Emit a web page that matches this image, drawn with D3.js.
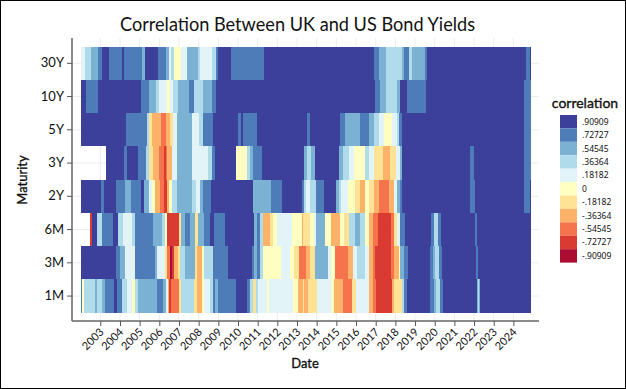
<!DOCTYPE html>
<html>
<head>
<meta charset="utf-8">
<script src="https://cdn.jsdelivr.net/npm/d3@7"></script>
<style>
  html, body { margin: 0; padding: 0; background: #fff; }
  text { font-family: Lato, "Noto Sans", sans-serif; fill: #111; }
  .legend-label { font-family: "Noto Sans", sans-serif; }
  .semi { stroke: #111; stroke-width: 0.35px; }
</style>
</head>
<body>
<svg id="chart"></svg>
<script>
const width = 626;
const height = 389;

// Maturities, top row first
const maturities = ["30Y", "10Y", "5Y", "3Y", "2Y", "6M", "3M", "1M"];
const tickYears = d3.range(2003, 2025);
const legendLevels = [0.90909, 0.72727, 0.54545, 0.36364, 0.18182, 0, -0.18182, -0.36364, -0.54545, -0.72727, -0.90909];
const legendLabels = [".90909", ".72727", ".54545", ".36364", ".18182", "0", "-.18182", "-.36364", "-.54545", "-.72727", "-.90909"];
const levelColors = ["#313695", "#4575b4", "#74add1", "#abd9e9", "#e0f3f8", "#ffffbf", "#fee090", "#fdae61", "#f46d43", "#d73027", "#a50026"];
const lastYear = 2024.88;

// Each row: year where a run of equal correlation starts, and that correlation (null = no data)
const starts30Y = [2002, 2002.22, 2002.53, 2002.86, 2003.1, 2003.42, 2004.08, 2004.19, 2005.14, 2005.25, 2005.93, 2006.34, 2006.47, 2006.59, 2006.75, 2007.1, 2007.39, 2007.97, 2008.07, 2008.66, 2008.88, 2009, 2009.66, 2011.31, 2016.93, 2017.17, 2017.54, 2018.32, 2018.42, 2018.68, 2018.86, 2019.53, 2019.61, 2024.66, 2024.83];
const corr30Y = [.18182, .36364, .54545, .72727, .90909, .72727, .90909, .72727, .54545, .90909, .72727, .54545, .18182, .36364, 0, .18182, .54545, .36364, .18182, .36364, .72727, .90909, .72727, .90909, .72727, .54545, .36364, .54545, .72727, .36364, .54545, .72727, .90909, .72727, .90909];

const starts10Y = [2002, 2002.27, 2002.88, 2005.05, 2005.19, 2005.47, 2005.81, 2006, 2006.41, 2006.54, 2006.71, 2006.95, 2007.51, 2007.78, 2008.24, 2008.66, 2008.86, 2016.98, 2017.24, 2017.51, 2018.08, 2018.25, 2018.59, 2019.58, 2024.56];
const corr10Y = [.90909, .72727, .90909, .72727, .72727, .54545, .36364, .18182, 0, .18182, .36364, .54545, .72727, .36364, .54545, .72727, .90909, .72727, .54545, .36364, .54545, .90909, .72727, .90909, .72727];

const starts5Y = [2002, 2004.31, 2005.36, 2005.47, 2005.64, 2006.07, 2006.34, 2006.54, 2006.71, 2006.92, 2007.66, 2008.03, 2008.2, 2008.75, 2010.02, 2010.15, 2010.27, 2010.97, 2013.53, 2013.64, 2015.17, 2015.42, 2016.22, 2016.64, 2016.93, 2017.17, 2017.44, 2017.83, 2018.08, 2018.19, 2018.34, 2024.56];
const corr5Y = [.90909, .72727, .36364, -.18182, -.36364, -.54545, -.36364, -.18182, .18182, .54545, .18182, .36364, .72727, .90909, .72727, .90909, .72727, .90909, .72727, .90909, .72727, .54545, .72727, .54545, .36364, .18182, 0, .18182, .36364, .72727, .90909, .72727];

const starts3Y = [2002, 2003.31, 2004.2, 2004.36, 2004.93, 2005.32, 2005.49, 2005.66, 2006, 2006.24, 2006.34, 2006.41, 2006.63, 2006.92, 2007.66, 2008.24, 2008.49, 2008.66, 2008.85, 2009.9, 2010.44, 2010.61, 2010.76, 2011.22, 2013.37, 2013.51, 2013.71, 2013.93, 2015.12, 2015.34, 2015.63, 2015.88, 2016.47, 2016.68, 2016.93, 2017.14, 2017.37, 2017.71, 2018.05, 2018.22, 2018.34, 2021.78, 2022.02, 2024.56];
const corr3Y = [null, .90909, .72727, .90909, .72727, .36364, -.18182, -.36364, -.54545, -.72727, -.54545, -.36364, .18182, .54545, .18182, .18182, .36364, .72727, .90909, 0, .36364, .54545, .72727, .90909, .54545, .36364, .54545, .90909, .54545, .36364, .18182, 0, .36364, .18182, -.18182, -.18182, -.36364, -.18182, .18182, .54545, .90909, .72727, .90909, .72727];

const starts2Y = [2002, 2003.03, 2003.2, 2003.8, 2004.25, 2004.54, 2005.05, 2005.22, 2005.49, 2005.61, 2005.76, 2006.03, 2006.24, 2006.37, 2006.51, 2006.63, 2006.88, 2007.66, 2007.86, 2008.07, 2008.2, 2008.63, 2010.75, 2011.69, 2012.25, 2013.27, 2013.37, 2013.47, 2013.68, 2013.97, 2014.39, 2014.98, 2015.12, 2015.24, 2015.58, 2015.97, 2016.19, 2016.47, 2016.64, 2016.93, 2017.15, 2017.66, 2017.92, 2018.08, 2018.22, 2018.34, 2021.81, 2022.05, 2024.56, 2024.83];
const corr2Y = [.90909, .72727, .90909, .72727, .54545, .72727, .90909, .54545, .18182, 0, -.36364, -.54545, -.72727, -.36364, 0, .36364, .54545, .36364, .18182, .54545, .72727, .90909, .54545, .72727, .90909, .72727, .36364, .18182, .36364, .72727, .90909, .54545, .36364, .18182, 0, -.18182, -.36364, 0, -.18182, -.36364, -.54545, -.36364, .18182, .54545, .72727, .90909, .72727, .90909, .72727, .90909];

const starts6M = [2002, 2002.47, 2002.56, 2002.81, 2003.07, 2003.66, 2003.92, 2004.17, 2004.59, 2004.76, 2005.69, 2005.86, 2006.12, 2006.29, 2006.41, 2007.02, 2007.08, 2007.31, 2007.56, 2007.8, 2007.97, 2008.27, 2008.58, 2008.8, 2009.32, 2010.83, 2010.98, 2011.12, 2011.25, 2011.63, 2011.8, 2012, 2012.76, 2013.24, 2013.31, 2013.64, 2013.85, 2013.97, 2014.44, 2014.73, 2015.17, 2015.37, 2015.63, 2015.97, 2016.19, 2016.47, 2016.64, 2016.86, 2017.1, 2017.78, 2017.92, 2018.08, 2018.22, 2018.51, 2019.81, 2019.95, 2020.15, 2020.32, 2022.07, 2022.17];
const corr6M = [null, -.72727, .90909, .36364, .72727, .90909, .36364, .18182, .36364, .72727, .54545, .54545, .36364, 0, -.72727, -.18182, .54545, .72727, .54545, -.18182, .54545, .72727, .90909, .72727, .90909, .54545, .72727, .36364, -.36364, -.18182, 0, .18182, 0, -.36364, -.18182, 0, .18182, .54545, 0, -.36364, 0, -.18182, .36364, .54545, .36364, 0, -.36364, -.54545, -.72727, -.54545, -.18182, .18182, .72727, .90909, .72727, .36364, .72727, .90909, .72727, .90909];

const starts3M = [2002, 2003.8, 2004, 2004.25, 2004.76, 2005.78, 2005.9, 2006.29, 2006.37, 2006.54, 2006.63, 2006.75, 2006.97, 2007.05, 2007.31, 2007.8, 2007.93, 2008.15, 2008.27, 2008.75, 2009.51, 2010.69, 2010.81, 2010.95, 2011.12, 2011.25, 2012.2, 2012.64, 2012.85, 2013.12, 2013.47, 2013.68, 2013.93, 2014.56, 2014.73, 2014.95, 2015.58, 2015.85, 2016.05, 2016.47, 2016.64, 2016.86, 2016.98, 2017.8, 2017.92, 2018.17, 2018.25, 2018.42, 2018.63, 2019.78, 2019.92, 2020.02, 2020.22, 2020.37, 2022.08, 2022.2];
const corr3M = [.90909, .72727, .54545, .18182, .72727, .54545, .18182, -.18182, -.54545, -.90909, -.72727, -.36364, -.18182, .36364, .54545, -.18182, -.36364, 0, .36364, .72727, .90909, .72727, .54545, .72727, .36364, 0, .18182, 0, -.18182, -.54545, -.36364, -.18182, .54545, .18182, 0, -.54545, -.36364, .18182, .36364, .18182, -.36364, -.54545, -.72727, -.54545, -.36364, 0, .54545, .72727, .90909, .72727, .54545, .36364, .72727, .90909, .72727, .90909];

const starts1M = [2002, 2002.07, 2002.15, 2002.73, 2002.85, 2003.08, 2003.25, 2003.69, 2003.83, 2004.08, 2004.34, 2004.63, 2004.76, 2004.9, 2005.9, 2006.17, 2006.34, 2006.46, 2006.49, 2006.59, 2007.02, 2007.08, 2007.76, 2007.9, 2008.15, 2008.27, 2008.58, 2008.75, 2008.85, 2008.98, 2009.88, 2010.44, 2010.61, 2010.75, 2010.92, 2011.03, 2011.46, 2011.59, 2012.81, 2013.03, 2013.32, 2013.37, 2013.54, 2014.02, 2014.73, 2014.9, 2015.34, 2015.78, 2015.98, 2016.64, 2016.86, 2016.99, 2017.81, 2017.95, 2018.34, 2018.46, 2018.59, 2019.78, 2019.95, 2020.07, 2020.29, 2020.42, 2022.13, 2022.2, 2022.27, 2022.32];
const corr1M = [.72727, 0, .36364, .54545, .36364, .54545, .72727, .90909, .72727, .36364, .18182, 0, .36364, .54545, .72727, .54545, .18182, -.36364, -.72727, -.54545, -.18182, .36364, -.18182, -.36364, 0, .18182, .36364, .72727, .54545, .72727, .90909, .72727, .36364, -.18182, .36364, .18182, 0, .18182, 0, -.36364, -.18182, -.36364, -.18182, .18182, 0, -.36364, -.54545, -.18182, .18182, -.36364, -.54545, -.72727, -.36364, -.18182, .36364, .72727, .90909, .72727, .54545, .36364, .72727, .90909, .54545, .36364, .54545, .90909];

const rowStarts = [starts30Y, starts10Y, starts5Y, starts3Y, starts2Y, starts6M, starts3M, starts1M];
const rowCorr = [corr30Y, corr10Y, corr5Y, corr3Y, corr2Y, corr6M, corr3M, corr1M];

// Plot area in page pixels
const plotLeft = 72;
const plotRight = 539;
const plotTop = 38;
const plotBottom = 321;

const svg = d3.select("#chart")
  .attr("width", width)
  .attr("height", height)
  .style("display", "block");

const x = d3.scaleLinear()
  .domain([2003, 2024])
  .range([100.3, 513.4]);

const y = d3.scaleBand()
  .domain(maturities)
  .range([46.7, 312.7])
  .padding(0);

const color = d3.scaleOrdinal()
  .domain(legendLevels)
  .range(levelColors);

// Faint gridlines first, they show through the tiles a little
const grid = svg.append("g");
grid.selectAll(".vgrid")
  .data(tickYears)
  .enter()
  .append("line")
  .attr("x1", d => x(d))
  .attr("x2", d => x(d))
  .attr("y1", plotTop)
  .attr("y2", plotBottom)
  .attr("stroke", "#ececec");
grid.selectAll(".hgrid")
  .data(maturities)
  .enter()
  .append("line")
  .attr("x1", plotLeft)
  .attr("x2", plotRight)
  .attr("y1", d => y(d) + y.bandwidth() / 2)
  .attr("y2", d => y(d) + y.bandwidth() / 2)
  .attr("stroke", "#ececec");

// Tiles, one rect per run
const tiles = maturities.flatMap((m, i) =>
  rowStarts[i].map((s, j) => ({
    maturity: m,
    start: s,
    end: j + 1 < rowStarts[i].length ? rowStarts[i][j + 1] : lastYear,
    corr: rowCorr[i][j]
  }))
).filter(d => d.corr !== null);

svg.append("g")
  .style("filter", "blur(0.5px)") // the reference is a soft screenshot
  .selectAll("rect")
  .data(tiles)
  .enter()
  .append("rect")
  .attr("x", d => x(d.start))
  .attr("y", d => y(d.maturity))
  .attr("width", d => x(d.end) - x(d.start))
  .attr("height", y.bandwidth())
  .attr("shape-rendering", "crispEdges")
  .attr("fill", d => color(d.corr))
  .attr("fill-opacity", 0.95);

// Axes
const xAxis = d3.axisBottom(x)
  .tickValues(tickYears)
  .tickFormat(d3.format("d"))
  .tickSize(5)
  .tickSizeOuter(0);

const xAxisG = svg.append("g")
  .attr("transform", `translate(0, ${plotBottom})`)
  .call(xAxis);
xAxisG.select(".domain")
  .attr("d", `M${plotLeft},0H${plotRight}`)
  .attr("stroke", "#666")
  .attr("stroke-width", 1.5);
xAxisG.selectAll(".tick line").attr("stroke", "#555");
xAxisG.selectAll(".tick text")
  .attr("font-size", 11)
  .attr("text-anchor", "end")
  .attr("dy", null)
  .attr("transform", "translate(-2, 6) rotate(-45)");

const yAxis = d3.axisLeft(y)
  .tickSize(5)
  .tickSizeOuter(0);

const yAxisG = svg.append("g")
  .attr("transform", `translate(${plotLeft}, 0)`)
  .call(yAxis);
yAxisG.select(".domain")
  .attr("d", `M0,${plotTop}V${plotBottom}`)
  .attr("stroke", "#666")
  .attr("stroke-width", 1.5);
yAxisG.selectAll(".tick line").attr("stroke", "#555");
yAxisG.selectAll(".tick text").attr("font-size", 13);

// Titles
svg.append("text")
  .attr("x", 297.5)
  .attr("y", 31)
  .attr("text-anchor", "middle")
  .attr("font-size", 19.5)
  .attr("textLength", 355)
  .attr("lengthAdjust", "spacingAndGlyphs")
  .text("Correlation Between UK and US Bond Yields");
svg.append("text")
  .attr("class", "semi")
  .attr("x", 305)
  .attr("y", 368)
  .attr("text-anchor", "middle")
  .attr("font-size", 13)
  .text("Date");
svg.append("text")
  .attr("class", "semi")
  .attr("transform", "translate(27, 180) rotate(-90)")
  .attr("text-anchor", "middle")
  .attr("font-size", 13)
  .text("Maturity");

// Legend
const legendX = 560;
const legendY = 115;
const swatchW = 17;
const swatchH = 13.42;

const legend = svg.append("g");
legend.append("text")
  .attr("class", "semi")
  .attr("x", 585)
  .attr("y", 108)
  .attr("text-anchor", "middle")
  .attr("font-size", 14)
  .text("correlation");
legend.selectAll("rect")
  .data(legendLevels)
  .enter()
  .append("rect")
  .attr("x", legendX)
  .attr("y", (d, i) => legendY + i * swatchH)
  .attr("width", swatchW)
  .attr("height", swatchH)
  .attr("fill", d => color(d))
  .attr("fill-opacity", 0.95);
legend.selectAll(".legend-label")
  .data(legendLabels)
  .enter()
  .append("text")
  .attr("class", "legend-label")
  .attr("x", 582)
  .attr("y", (d, i) => legendY + (i + 0.5) * swatchH + 3)
  .attr("font-size", 8.5)
  .text(d => d);

// Outer frame of the screenshot
svg.append("rect")
  .attr("x", 0.5)
  .attr("y", 0.5)
  .attr("width", width - 1)
  .attr("height", height - 1)
  .attr("fill", "none")
  .attr("stroke", "#000");
</script>
</body>
</html>
